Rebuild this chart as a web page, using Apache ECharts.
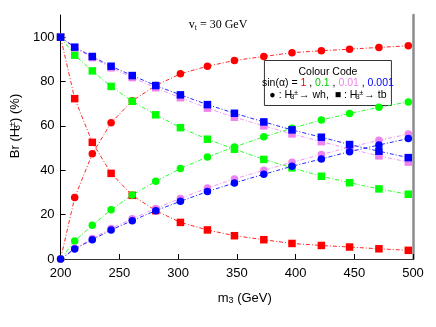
<!DOCTYPE html>
<html><head><meta charset="utf-8">
<script src="https://cdn.jsdelivr.net/npm/echarts@6/dist/echarts.min.js"></script>
<style>html,body{margin:0;padding:0;background:#fff}#c{width:436px;height:327px}</style>
</head><body><div id="c"></div>
<script>
const mass = [200, 212, 227, 243, 261, 281, 302, 325, 348, 373, 397, 422, 446, 471, 496];
const xTicks = [200, 250, 300, 350, 400, 450, 500];
const yTicks = [0, 20, 40, 60, 80, 100];
// sin(alpha) = 1
const wh_s1   = [0, 27.7, 47.4, 61.4, 71.3, 78.2, 83.5, 86.9, 89.5, 91.3, 93.0, 93.9, 94.6, 95.4, 96.1];
const tb_s1   = [100, 72.3, 52.6, 38.6, 28.7, 21.8, 16.5, 13.1, 10.5, 8.7, 7.0, 6.1, 5.4, 4.6, 3.9];
// sin(alpha) = 0.1
const wh_s01  = [0, 8.1, 15.2, 22.2, 28.9, 35.0, 40.8, 46.0, 50.5, 55.1, 58.9, 62.7, 65.6, 68.4, 70.8];
const tb_s01  = [100, 91.9, 84.8, 77.8, 71.1, 65.0, 59.2, 54.0, 49.5, 44.9, 41.1, 37.3, 34.4, 31.6, 29.2];
// sin(alpha) = 0.01
const wh_s001 = [0, 4.8, 9.2, 13.8, 18.2, 22.8, 27.3, 32.0, 36.1, 40.0, 43.6, 47.1, 50.4, 53.5, 56.3];
const tb_s001 = [100, 95.2, 90.8, 86.2, 81.8, 77.2, 72.7, 68.0, 63.9, 60.0, 56.4, 52.9, 49.6, 46.5, 43.7];
// sin(alpha) = 0.001
const wh_s0001 = [0, 4.5, 8.7, 13.1, 17.3, 21.8, 26.0, 30.4, 34.3, 38.2, 41.8, 45.1, 48.4, 51.4, 54.3];
const tb_s0001 = [100, 95.5, 91.3, 86.9, 82.7, 78.2, 74.0, 69.6, 65.7, 61.8, 58.2, 54.9, 51.6, 48.6, 45.7];

const RED = '#ff0000', GREEN = '#00ff00', PINK = '#ee82ee', BLUE = '#0000ff';
const FONT = 'Liberation Sans, Arial, sans-serif';

function mk(vals, color, sym) {
  return {
    type: 'line', data: mass.map((m, i) => [m, vals[i]]),
    symbol: sym === 'c' ? 'circle' : 'rect', symbolSize: 7.5, showSymbol: true,
    lineStyle: { color: color, width: 1, type: [4, 2, 1, 2], opacity: 0.85 },
    itemStyle: { color: color, borderWidth: 0 },
    emphasis: { disabled: true }, animation: false, z: 3
  };
}

const chart = echarts.init(document.getElementById('c'), null, { renderer: 'canvas' });
const richCommon = {
  n: { fontSize: 13, fontFamily: FONT, color: '#000', lineHeight: 14 },
  sub: { fontSize: 9, fontFamily: FONT, color: '#000', lineHeight: 2, verticalAlign: 'bottom', width: 1 },
  sup: { fontSize: 9, fontFamily: FONT, color: '#000', lineHeight: 2, verticalAlign: 'top' }
};
chart.setOption({
  animation: false,
  grid: { left: 48, right: 23, top: 15, bottom: 68, containLabel: false },
  xAxis: [{
    type: 'value', min: 200, max: 500, interval: 50, position: 'bottom',
    axisLine: { lineStyle: { color: '#000', width: 1 } },
    axisTick: { inside: true, length: 5, lineStyle: { color: '#000' } },
    axisLabel: { fontSize: 13, fontFamily: FONT, color: '#000', margin: 8,
      customValues: xTicks },
    splitLine: { show: false },
    name: '{n|m}{s|3}{n| (GeV)}', nameLocation: 'middle', nameGap: 32,
    nameTextStyle: { padding: [0, 0, 0, 16], rich: {
      n: { fontSize: 13, fontFamily: FONT, color: '#000', lineHeight: 14 },
      s: { fontSize: 9, fontFamily: FONT, color: '#000', lineHeight: 2, verticalAlign: 'bottom' }
    } }
  }, {
    type: 'value', min: 200, max: 500, position: 'top',
    axisLine: { show: true, lineStyle: { color: '#333', width: 1 } },
    axisTick: { show: false }, axisLabel: { show: false }, splitLine: { show: false }
  }],
  yAxis: [{
    type: 'value', min: 0, max: 110, interval: 20, position: 'left',
    axisLine: { show: true, lineStyle: { color: '#000', width: 1 } },
    axisTick: { inside: true, length: 5, lineStyle: { color: '#000' } },
    axisLabel: { fontSize: 13, fontFamily: FONT, color: '#000', margin: 6, showMaxLabel: false,
      formatter: v => (yTicks.indexOf(v) >= 0 ? String(v) : '') },
    splitLine: { show: false },
    name: '{n|Br (H}{sub|3}{sup|±}{n|) (%)}', nameLocation: 'middle', nameGap: 32,
    nameTextStyle: { padding: [0, 0, 0, 22], rich: richCommon }
  }, {
    type: 'value', min: 0, max: 110, position: 'right',
    axisLine: { show: true, lineStyle: { color: '#8c8c8c', width: 2.5 } },
    axisTick: { show: false }, axisLabel: { show: false }, splitLine: { show: false }
  }],
  series: [
    mk(wh_s1, RED, 'c'), mk(tb_s1, RED, 's'),
    mk(wh_s01, GREEN, 'c'), mk(tb_s01, GREEN, 's'),
    mk(wh_s001, PINK, 'c'), mk(tb_s001, PINK, 's'),
    mk(wh_s0001, BLUE, 'c'), mk(tb_s0001, BLUE, 's')
  ],
  graphic: [
    { type: 'text', left: 'center', top: 19, z: 10,
      style: { text: '{a|v}{b|t}{a| = 30 GeV}', x: 0,
        rich: { a: { fontSize: 12, fontFamily: 'Liberation Serif, Times New Roman, serif', fill: '#000', lineHeight: 13 },
                b: { fontSize: 8, fontFamily: 'Liberation Serif, Times New Roman, serif', fill: '#000', lineHeight: 2, verticalAlign: 'bottom' } } } },
    { type: 'group', left: 262, top: 60, z: 10, children: [
      { type: 'rect', shape: { x: 0, y: 0, width: 127, height: 45 },
        style: { fill: '#fff', stroke: '#333', lineWidth: 1 } },
      { type: 'text', x: 63.5, y: 11.5, style: { text: 'Colour Code', align: 'center', verticalAlign: 'middle',
          fontSize: 10.5, fontFamily: FONT, fill: '#000' } },
      { type: 'text', x: 63.5, y: 23, style: { align: 'center', verticalAlign: 'middle',
          text: '{k|sin(α) = }{r|1}{k| , }{g|0.1}{k| , }{p|0.01}{k| , }{b|0.001}',
          rich: {
            k: { fontSize: 10.5, fontFamily: FONT, fill: '#000' },
            r: { fontSize: 10.5, fontFamily: FONT, fill: RED },
            g: { fontSize: 10.5, fontFamily: FONT, fill: '#00cc00' },
            p: { fontSize: 10.5, fontFamily: FONT, fill: PINK },
            b: { fontSize: 10.5, fontFamily: FONT, fill: BLUE }
          } } },
      { type: 'text', x: 63.5, y: 34.5, style: { align: 'center', verticalAlign: 'middle',
          text: '{k|● : H}{s|3}{u|±}{k|→ wh,  ■ : H}{s|3}{u|±}{k|→ tb}',
          rich: {
            k: { fontSize: 10.5, fontFamily: FONT, fill: '#000', lineHeight: 12 },
            s: { fontSize: 7, fontFamily: FONT, fill: '#000', lineHeight: 2, verticalAlign: 'bottom', width: 1 },
            u: { fontSize: 7.5, fontFamily: FONT, fill: '#000', lineHeight: 2, verticalAlign: 'top', width: 6 }
          } } }
    ] }
  ]
});
</script></body></html>
